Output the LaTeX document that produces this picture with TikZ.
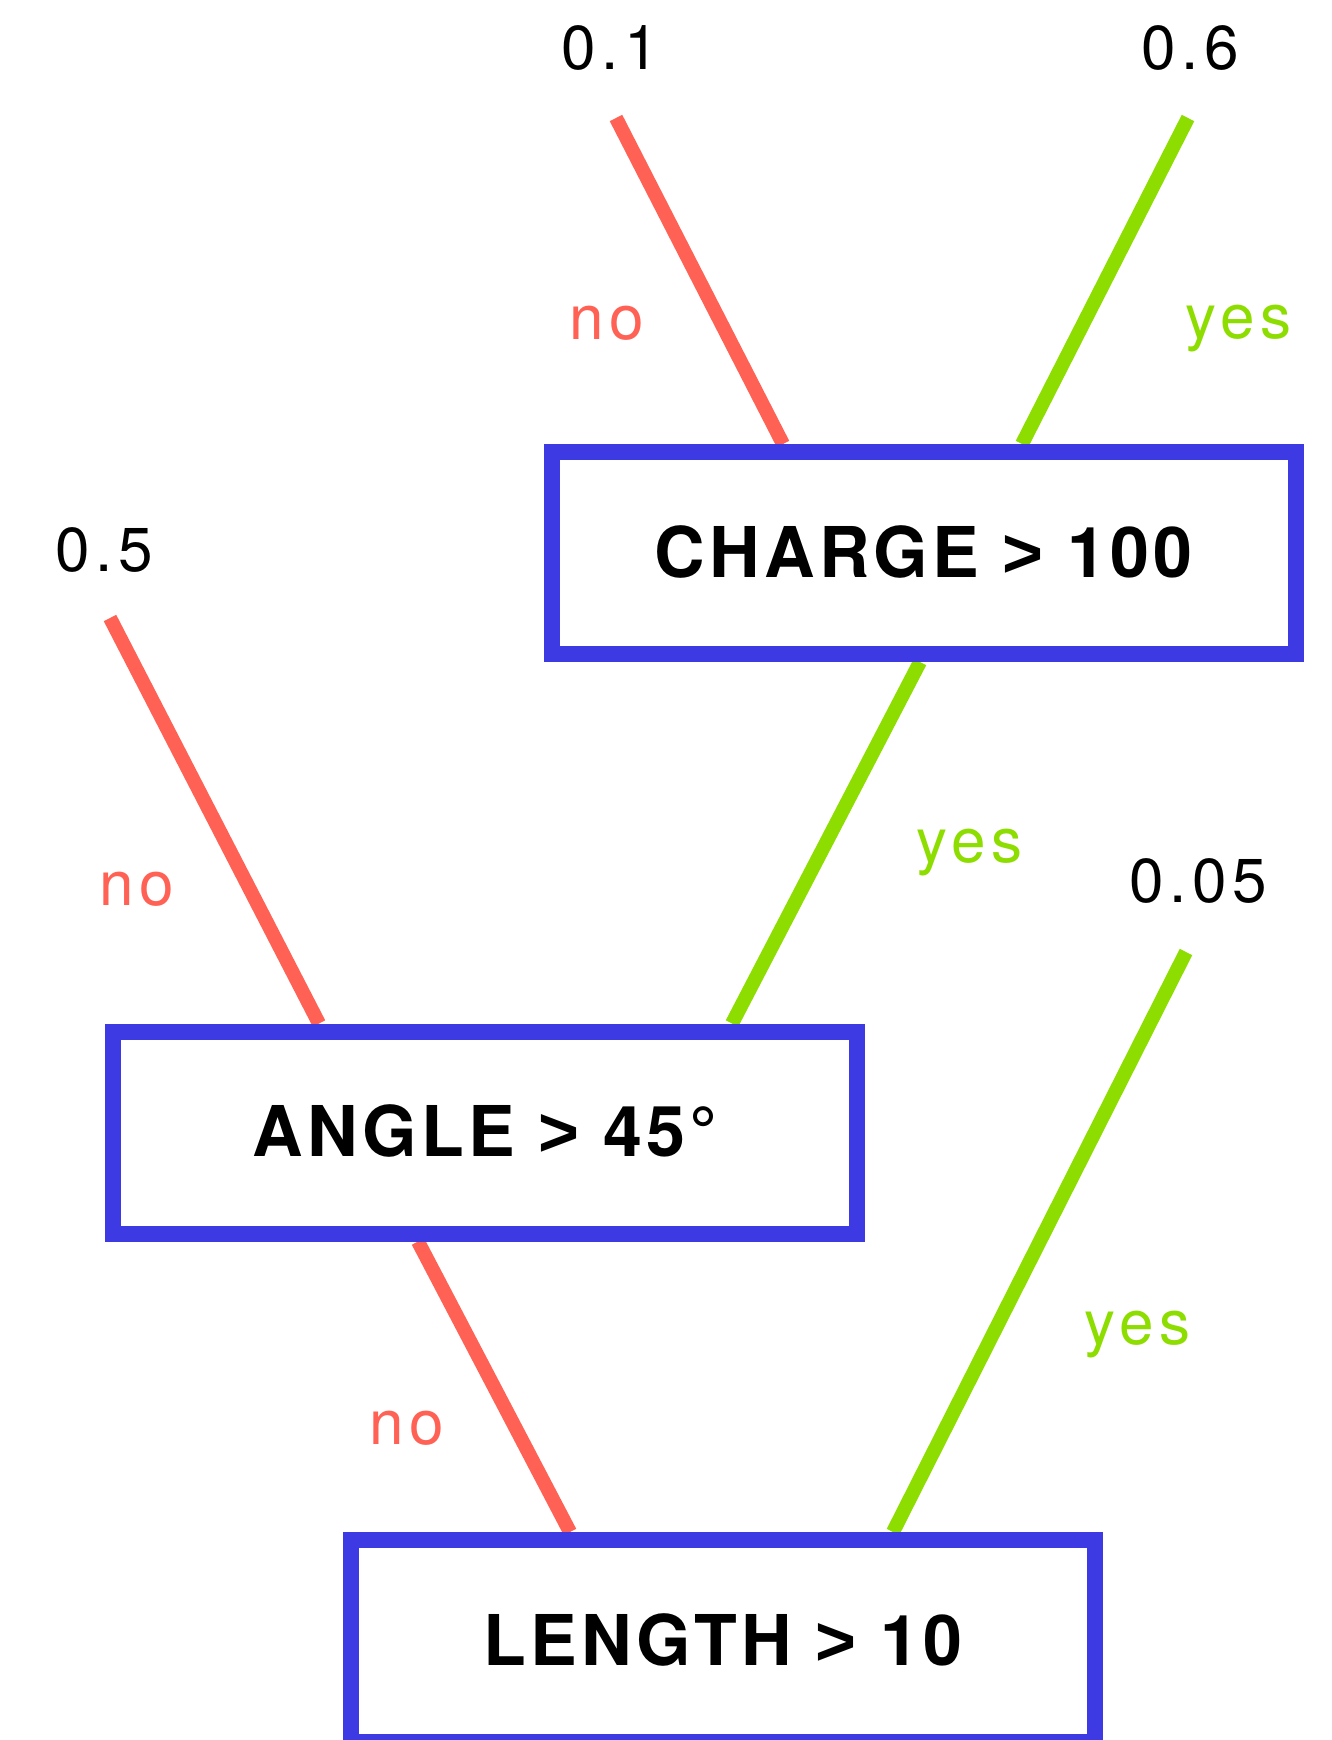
\documentclass[tikz,border=0pt]{standalone}
\usepackage{fontspec}
\setmainfont{TeX Gyre Heros}
\newfontfamily\boxfont[LetterSpace=6]{TeX Gyre Heros}
\newfontfamily\gtfont[LetterSpace=6]{Liberation Sans}
\newfontfamily\labfont[LetterSpace=9]{TeX Gyre Heros}
\newcommand{\gtsign}{{\gtfont\bfseries >}}
\usetikzlibrary{calc}
\pgfdeclarelayer{bg}
\pgfsetlayers{bg,main}
\definecolor{boxblue}{RGB}{61,58,227}
\definecolor{nored}{RGB}{255,98,85}
\definecolor{yesgreen}{RGB}{142,221,0}
\begin{document}
\begin{tikzpicture}[x=0.5pt,y=-0.5pt,
  decision/.style={draw=boxblue, line width=8pt, fill=white,
    minimum width=372pt, minimum height=101pt, inner sep=0pt,
    text height=24pt, text depth=0pt,
    font=\boxfont\bfseries\fontsize{35}{42}\selectfont, text=black},
  lbl/.style={inner sep=0pt, anchor=base, font=\labfont\fontsize{31}{37}\selectfont},
  num/.style={lbl, text=black},
  nolbl/.style={lbl, text=nored},
  yeslbl/.style={lbl, text=yesgreen},
  noedge/.style={draw=nored, line width=7pt},
  yesedge/.style={draw=yesgreen, line width=7pt}]
\useasboundingbox (0,0) rectangle (1332,1740);
\clip (0,0) rectangle (1332,1740);

% decision boxes
\node[decision] (charge) at (923.5,553) {CHARGE \gtsign\ 100};
\node[decision] (angle) at (485,1132.5) {ANGLE \gtsign\ 45°};
\node[decision] (length) at (723,1641) {LENGTH \gtsign\ 10};

% leaf values
\node[num] (v01) at (610,69) {0.1};
\node[num] (v06) at (1190,69) {0.6};
\node[num] (v05) at (104,571) {0.5};
\node[num] (v005) at (1198,902) {0.05};

% edge labels
\node[nolbl] (n1) at (607,339) {no};
\node[yeslbl] (y1) at (1239,338) {yes};
\node[nolbl] (n2) at (137,905) {no};
\node[yeslbl] (y2) at (970,862) {yes};
\node[nolbl] (n3) at (407,1444) {no};
\node[yeslbl] (y3) at (1138,1344) {yes};

% free ends of the leaf connectors
\coordinate (e01) at (616,118);
\coordinate (e06) at (1188,118);
\coordinate (e05) at (110,618);
\coordinate (e005) at (1186,952);

\begin{pgfonlayer}{bg}
\fill[white] (0,0) rectangle (1332,1740);
\draw[noedge] (e01) -- ($(charge.north)+(-140.5,0)$);
\draw[yesedge] (e06) -- ($(charge.north)+(98.5,0)$);
\draw[yesedge] ($(charge.south)+(-3.5,0)$) -- ($(angle.north)+(247,0)$);
\draw[noedge] (e05) -- ($(angle.north)+(-166,0)$);
\draw[noedge] ($(angle.south)+(-67,0)$) -- ($(length.north)+(-153,0)$);
\draw[yesedge] (e005) -- ($(length.north)+(170,0)$);
\end{pgfonlayer}
\end{tikzpicture}
\end{document}
